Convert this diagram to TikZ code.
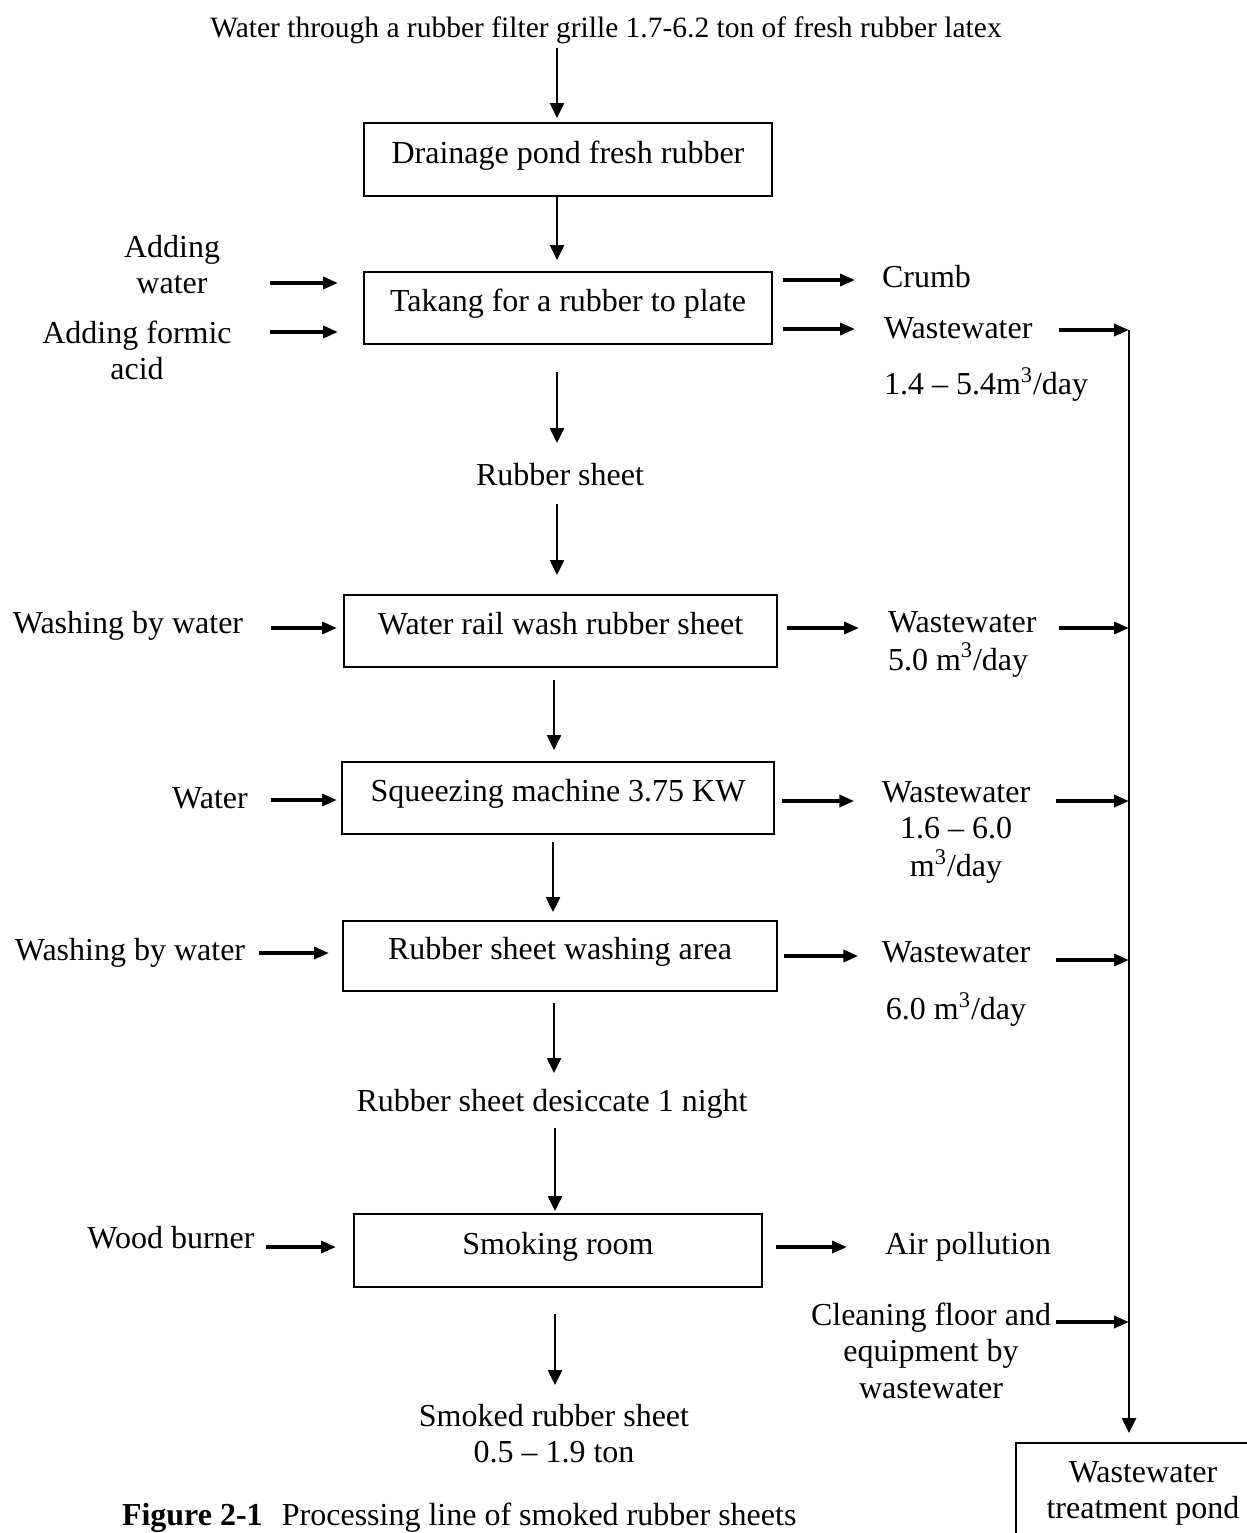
\documentclass[tikz,border=0pt]{standalone}
\usepackage{fontspec}
\setmainfont{Liberation Serif}
\usetikzlibrary{arrows.meta,calc}
\newcommand{\mlc}[1]{\begin{tabular}[t]{@{}c@{}}#1\end{tabular}}
\newcommand{\mll}[1]{\begin{tabular}[t]{@{}l@{}}#1\end{tabular}}
\newcommand{\cubic}{m\textsuperscript{3}/day}
\begin{document}
\begin{tikzpicture}[x=0.5pt,y=-0.5pt,
  every node/.style={font=\fontsize{16}{18.3}\selectfont, inner sep=0pt, outer sep=0pt},
  lbl/.style={anchor=base},
  lblw/.style={anchor=base west},
  proc/.style={draw, line width=1pt, text height=9.4pt, text depth=5.6pt},
  varr/.style={line width=1.25pt, -{Triangle[length=7.5pt,width=7pt]}},
  harr/.style={line width=1.75pt, -{Triangle[length=7.5pt,width=6pt]}},
]
\useasboundingbox (0,0) rectangle (1247,1533);
\clip (0,0) rectangle (1247,1533);
\fill[white] (0,0) rectangle (1247,1533);

% process boxes
\node[proc, minimum width=204pt, minimum height=36.5pt] (b1) at (568,159.5) {Drainage pond fresh rubber};
\node[proc, minimum width=204pt, minimum height=36pt] (b2) at (568,308) {Takang for a rubber to plate};
\node[proc, minimum width=216.5pt, minimum height=36pt] (b3) at (560.5,631) {Water rail wash rubber sheet};
\node[proc, minimum width=216pt, minimum height=36pt] (b4) at (558,798) {Squeezing machine 3.75 KW};
\node[proc, minimum width=217pt, minimum height=35pt] (b5) at (560,956) {Rubber sheet washing area};
\node[proc, minimum width=204pt, minimum height=36.5pt] (b6) at (558,1250.5) {Smoking room};
\node[draw, line width=1pt, minimum width=127pt, minimum height=50pt] (b7) at (1143,1493) {\mlc{Wastewater\\treatment pond}};

% labels
\node[lbl, font=\fontsize{14.75}{17}\selectfont] (top) at (606,37) {Water through a rubber filter grille 1.7-6.2 ton of fresh rubber latex};
\node[lbl] (addw) at (172,257) {\mlc{Adding\\water}};
\node[lbl] (addf) at (137,343) {\mlc{Adding formic\\acid}};
\node[lblw] (crumb) at (882,287) {Crumb};
\node[lblw] (ww1) at (884,338) {\mll{Wastewater\\[9.2pt]1.4 -- 5.4\cubic}};
\node[lbl] (sheet) at (560,485) {Rubber sheet};
\node[lbl] (wash1) at (128,633) {Washing by water};
\node[lblw] (ww2) at (888,632) {\mll{Wastewater\\5.0 \cubic}};
\node[lbl] (water) at (210,808) {Water};
\node[lbl] (ww3) at (956,802) {\mlc{Wastewater\\1.6 -- 6.0\\\cubic}};
\node[lbl] (wash2) at (130,960) {Washing by water};
\node[lbl] (ww4) at (956,962) {\mlc{Wastewater\\[9.7pt]6.0 \cubic}};
\node[lbl] (desic) at (552,1111) {Rubber sheet desiccate 1 night};
\node[lbl] (wood) at (171,1248) {Wood burner};
\node[lblw] (air) at (885,1254) {Air pollution};
\node[lbl] (clean) at (931,1325) {\mlc{Cleaning floor and\\equipment by\\wastewater}};
\node[lbl] (smoked) at (554,1426) {\mlc{Smoked rubber sheet\\0.5 -- 1.9 ton}};
\node[lblw] (cap) at (122,1525) {\textbf{Figure 2-1}\hspace{0.6em}Processing line of smoked rubber sheets};

% main vertical flow
\draw[varr] ($(top.base)+(-49,11)$) -- ($(b1.north)+(-11,-5)$);
\draw[varr] ($(b1.south)+(-11,0)$) -- ($(b2.north)+(-11,-12)$);
\draw[varr] ($(b2.south)+(-11,28)$) -- ($(sheet.base)+(-3,-42)$);
\draw[varr] ($(sheet.base)+(-3,19)$) -- ($(b3.north)+(-3.5,-20)$);
\draw[varr] ($(b3.south)+(-6.5,13)$) -- ($(b4.north)+(-4,-12)$);
\draw[varr] ($(b4.south)+(-5,8)$) -- ($(b5.north)+(-7,-9)$);
\draw[varr] ($(b5.south)+(-6,12)$) -- ($(desic.base)+(2,-38)$);
\draw[varr] ($(desic.base)+(3,17)$) -- ($(b6.north)+(-3,-3)$);
\draw[varr] ($(b6.south)+(-3,27)$) -- ($(smoked.base)+(1,-41)$);

% row: takang
\draw[harr] ($(addw.base)+(98,26)$) -- ($(b2.west)+(-26,-25)$);
\draw[harr] ($(addf.base)+(133,-11)$) -- ($(b2.west)+(-26,24)$);
\draw[harr] ($(b2.east)+(11,-28)$) -- ($(crumb.base west)+(-27,-7)$);
\draw[harr] ($(b2.east)+(11,21)$) -- ($(ww1.base west)+(-29,-9)$);
\coordinate (bustop) at (1129,330);
\draw[harr] ($(ww1.base west)+(175,-8)$) -- (bustop);

% row: water rail
\draw[harr] ($(wash1.base)+(143,-5)$) -- ($(b3.west)+(-7,-3)$);
\draw[harr] ($(b3.east)+(10,-3)$) -- ($(ww2.base west)+(-29,-4)$);
\draw[harr] ($(ww2.base west)+(171,-4)$) coordinate (t2) -- (t2 -| bustop);

% row: squeezing
\draw[harr] ($(water.base)+(61,-8)$) -- ($(b4.west)+(-5,2)$);
\draw[harr] ($(b4.east)+(8,3)$) -- ($(ww3.base west)+(-27.5,-1)$);
\draw[harr] ($(ww3.base)+(100,-1)$) coordinate (t3) -- (t3 -| bustop);

% row: washing area
\draw[harr] ($(wash2.base)+(129,-7)$) -- ($(b5.west)+(-14,-3)$);
\draw[harr] ($(b5.east)+(7,0)$) -- ($(ww4.base west)+(-23.5,-6)$);
\draw[harr] ($(ww4.base)+(100,-2)$) coordinate (t4) -- (t4 -| bustop);

% row: smoking
\draw[harr] ($(wood.base)+(95,-1)$) -- ($(b6.west)+(-18,-3.5)$);
\draw[harr] ($(b6.east)+(14,-3.5)$) -- ($(air.base west)+(-38,-7)$);
\draw[harr] ($(clean.base)+(125,-3)$) coordinate (t5) -- (t5 -| bustop);

% collecting line
\draw[varr] (bustop) -- ($(b7.north)+(-14,-10)$);
\end{tikzpicture}
\end{document}
